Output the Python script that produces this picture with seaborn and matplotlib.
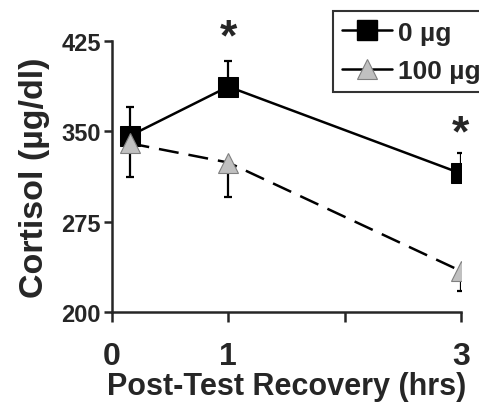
import pandas as pd
import numpy as np
import matplotlib
matplotlib.use("Agg")
import matplotlib.pyplot as plt
import seaborn as sns
from matplotlib.lines import Line2D

# values
hours = [0.15, 1, 3]
groups = ['0 µg', '100 µg']
cortisol_0 = [346, 387, 315]
err_0 = [24, 21, 17]        # error bars drawn upward
cortisol_100 = [340, 324, 234]
err_100 = [28, 29, 17]      # error bars drawn downward
star_x = [1, 3]
star_y = [410, 331]

df = pd.DataFrame({'hours': hours * 2,
                   'cortisol': cortisol_0 + cortisol_100,
                   'group': [groups[0]] * 3 + [groups[1]] * 3})

sns.set_style('ticks')
plt.rcParams['font.family'] = ['Liberation Sans', 'DejaVu Sans']
plt.rcParams['font.weight'] = 'bold'

fig = plt.figure(figsize=(4.79, 4.14), dpi=100)
ax = fig.add_axes([0.234, 0.244, 0.728, 0.655])

sns.lineplot(data=df, x='hours', y='cortisol', hue='group', style='group',
             palette={groups[0]: 'black', groups[1]: 'black'},
             dashes={groups[0]: '', groups[1]: (8, 4)},
             markers={groups[0]: 's', groups[1]: '^'},
             markersize=15, linewidth=1.8, legend=False, ax=ax, zorder=3)

# recolour the triangle markers
lines = ax.get_lines()
lines[1].set_markerfacecolor('#c0c0c0')
lines[1].set_markeredgecolor('#808080')
lines[1].set_markeredgewidth(0.8)
lines[0].set_markeredgecolor('black')

ax.errorbar(hours, cortisol_0, yerr=[np.zeros(3), err_0], fmt='none',
            ecolor='black', elinewidth=1.6, capsize=3, capthick=1.6, zorder=2)
ax.errorbar(hours, cortisol_100, yerr=[err_100, np.zeros(3)], fmt='none',
            ecolor='black', elinewidth=1.6, capsize=3, capthick=1.6, zorder=2)

for sx, sy in zip(star_x, star_y):
    ax.text(sx, sy, '*', ha='center', va='bottom', fontsize=32, fontweight='bold')

ax.set_xlim(0, 3)
ax.set_ylim(200, 425)
ax.set_xticks([0, 1, 2, 3])
ax.set_xticklabels(['0', '1', '', '3'], fontsize=23, fontweight='bold')
ax.set_yticks([200, 275, 350, 425])
ax.set_yticklabels(['200', '275', '350', '425'], fontsize=17, fontweight='bold')
ax.tick_params(axis='x', length=7, width=1.8, pad=14)
ax.tick_params(axis='y', length=6, width=1.8, pad=2)
for side in ['left', 'bottom']:
    ax.spines[side].set_linewidth(1.8)
sns.despine(ax=ax)

ax.set_xlabel('Post-Test Recovery (hrs)', fontsize=22, fontweight='bold', labelpad=0)
ax.set_ylabel('Cortisol (µg/dl)', fontsize=24.5, fontweight='bold', labelpad=8)

handles = [Line2D([], [], color='black', lw=1.8, marker='s', markersize=14),
           Line2D([], [], color='black', lw=1.8, marker='^', markersize=14,
                  markerfacecolor='#c0c0c0', markeredgecolor='#808080', markeredgewidth=0.8)]
leg = fig.legend(handles, groups, loc='upper left', bbox_to_anchor=(0.695, 0.97),
                 prop={'size': 19, 'weight': 'bold'}, frameon=True, fancybox=False,
                 edgecolor='black', handlelength=1.9, handletextpad=0.2,
                 borderpad=0.35, labelspacing=0.55, borderaxespad=0)
leg.get_frame().set_linewidth(1.5)

fig.savefig('out.png', dpi=100)
